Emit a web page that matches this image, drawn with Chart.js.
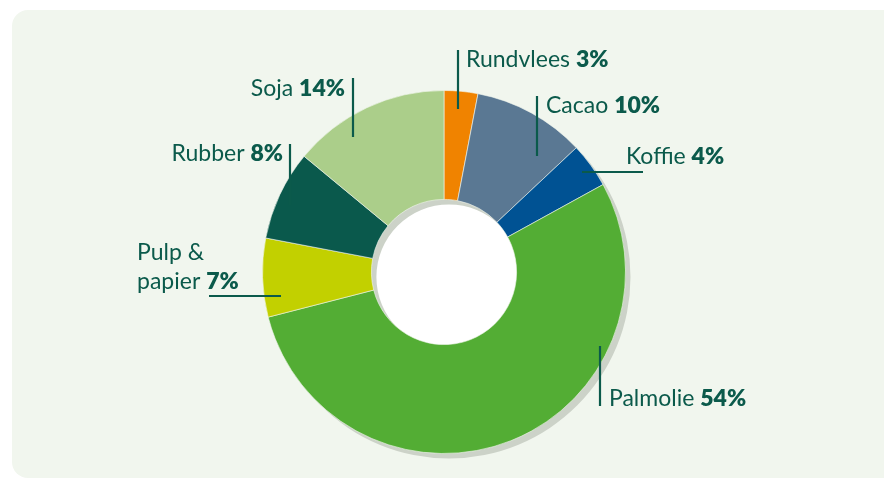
<!DOCTYPE html>
<html>
<head>
<meta charset="utf-8">
<script src="https://cdn.jsdelivr.net/npm/chart.js@4.4.1/dist/chart.umd.min.js"></script>
<style>
  body { margin: 0; background: #fff; }
  #wrap { position: relative; width: 884px; height: 483px; overflow: hidden; }
  #card { position: absolute; left: 12px; top: 10px; width: 900px; height: 468px; background: #f1f6ee; border-radius: 16px; }
  canvas { position: absolute; left: 0; top: 0; }
</style>
</head>
<body>
<div id="wrap">
  <div id="card"></div>
  <canvas id="donut" width="884" height="483"></canvas>
</div>
<script>
// data
const categories = ['Rundvlees', 'Cacao', 'Koffie', 'Palmolie', 'Pulp & papier', 'Rubber', 'Soja'];
const shares = [3, 10, 4, 54, 7, 8, 14];
const sliceColours = ['#f08300', '#5a7893', '#005293', '#53ad34', '#c2d000', '#0a594c', '#abce8a'];

// where each label sits (text lines + leader line)
const labelLayout = [
  { x: 466, ys: [67], align: 'left', line: [458, 50, 458, 109] },
  { x: 546, ys: [113], align: 'left', line: [537, 96, 537, 156] },
  { x: 626, ys: [164], align: 'left', line: [582, 172, 643, 172] },
  { x: 609, ys: [406], align: 'left', line: [600, 346, 600, 406] },
  { x: 137, ys: [260, 289], align: 'left', split: true, line: [209, 296, 281, 296] },
  { x: 283, ys: [161], align: 'right', line: [290, 144, 290, 205] },
  { x: 345, ys: [96], align: 'right', line: [353, 78, 353, 137] }
];

const textColour = '#0b5a4b';
const fontSize = 23;

const donutExtras = {
  id: 'donutExtras',
  beforeDatasetsDraw(chart) {
    const ctx = chart.ctx;
    const arc = chart.getDatasetMeta(0).data[0];
    const { x, y, innerRadius, outerRadius } = arc.getProps(['x', 'y', 'innerRadius', 'outerRadius'], true);
    ctx.save();
    // white hole
    ctx.fillStyle = '#ffffff';
    ctx.beginPath();
    ctx.arc(x, y, innerRadius, 0, Math.PI * 2);
    ctx.fill();
    // flat shadow ring
    ctx.fillStyle = '#ccd2c8';
    ctx.beginPath();
    ctx.arc(x + 5, y + 5, outerRadius, 0, Math.PI * 2);
    ctx.arc(x + 5, y + 5, innerRadius, 0, Math.PI * 2, true);
    ctx.fill('evenodd');
    ctx.restore();
  },
  afterDatasetsDraw(chart) {
    const ctx = chart.ctx;
    ctx.save();
    ctx.fillStyle = textColour;
    ctx.strokeStyle = textColour;
    ctx.lineWidth = 2.2;
    ctx.textBaseline = 'alphabetic';
    labelLayout.forEach((lab, i) => {
      const l = lab.line;
      ctx.beginPath();
      ctx.moveTo(l[0], l[1]);
      ctx.lineTo(l[2], l[3]);
      ctx.stroke();

      const pct = shares[i] + '%';
      let lines;
      if (lab.split) {
        const words = categories[i].split(' ');
        lines = [words.slice(0, 2).join(' '), words.slice(2).join(' ')];
      } else {
        lines = [categories[i]];
      }
      lines.forEach((txt, k) => {
        const last = k === lines.length - 1;
        const name = last ? txt + ' ' : txt;
        ctx.font = '400 ' + fontSize + 'px Lato';
        const w1 = ctx.measureText(name).width;
        ctx.font = '800 ' + fontSize + 'px Lato';
        const w2 = last ? ctx.measureText(pct).width : 0;
        let x0 = lab.align === 'right' ? lab.x - (w1 + w2) : lab.x;
        ctx.textAlign = 'left';
        ctx.font = '400 ' + fontSize + 'px Lato';
        ctx.fillText(name, x0, lab.ys[k]);
        if (last) {
          ctx.font = '800 ' + fontSize + 'px Lato';
          ctx.fillText(pct, x0 + w1, lab.ys[k]);
        }
      });
    });
    ctx.restore();
  }
};

new Chart(document.getElementById('donut'), {
  type: 'doughnut',
  data: {
    labels: categories,
    datasets: [{
      data: shares,
      backgroundColor: sliceColours,
      borderColor: 'rgba(241, 246, 238, 0.6)',
      borderWidth: 1
    }]
  },
  options: {
    responsive: false,
    animation: false,
    cutout: '40%',
    layout: { padding: { left: 262, right: 258, top: 90, bottom: 29 } },
    plugins: {
      legend: { display: false },
      tooltip: { enabled: false }
    }
  },
  plugins: [donutExtras]
});
</script>
</body>
</html>
